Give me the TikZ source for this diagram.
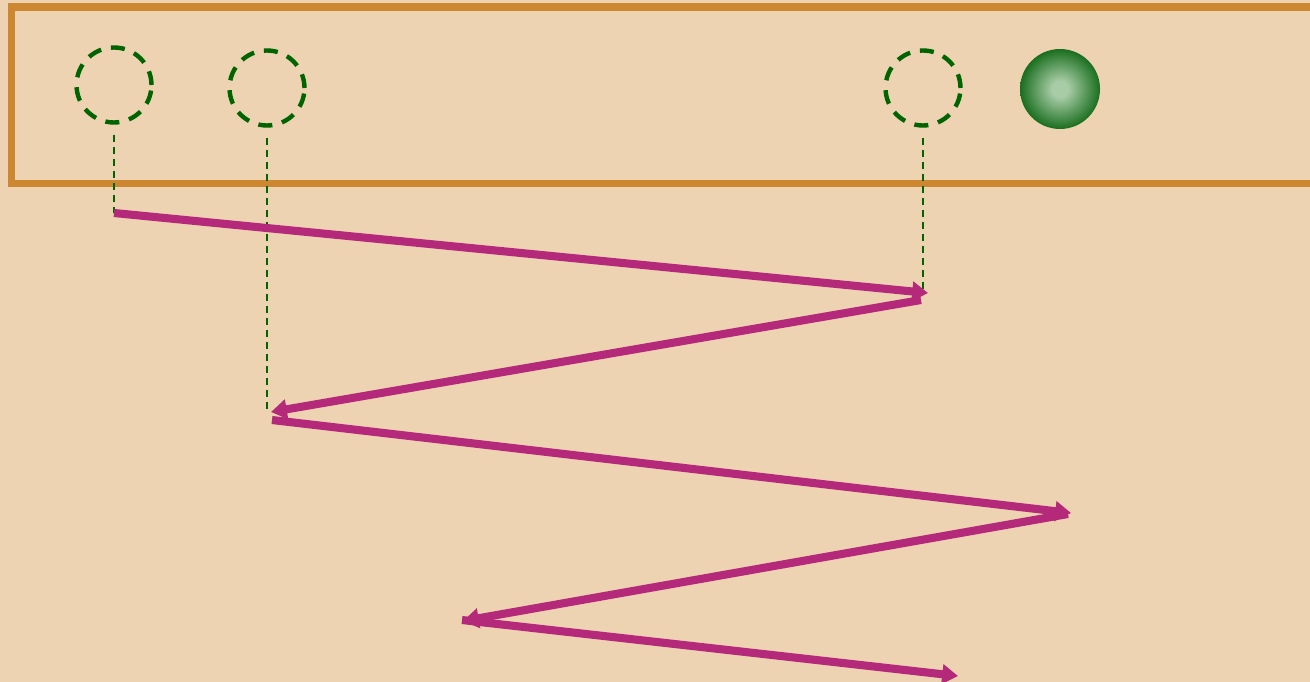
\documentclass[tikz,border=0pt]{standalone}
\usepackage{tikz}
\usetikzlibrary{arrows.meta}
\definecolor{ScanTan}{HTML}{EDD3B1}
\definecolor{ScanOrange}{HTML}{CD8730}
\definecolor{ScanMagenta}{HTML}{B5297A}
\definecolor{ScanGreen}{HTML}{006400}
\definecolor{ScanDark}{HTML}{0C6512}
\definecolor{ScanLight}{HTML}{A8CCA6}
\pgfdeclareradialshading{scanball}{\pgfpoint{0bp}{0bp}}{color(0bp)=(ScanLight); color(5bp)=(ScanLight); color(27bp)=(ScanDark); color(50bp)=(ScanDark)}
\begin{document}
\begin{tikzpicture}[x=0.02cm,y=-0.02cm,
  ring/.style={circle,draw=ScanGreen,line width=2.5pt,dash pattern=on 0.28cm off 0.2cm,minimum size=1.5cm,inner sep=0pt},
  drop/.style={ScanGreen,line width=1pt,dash pattern=on 0.14cm off 0.1cm},
  hop/.style={ScanMagenta,line width=4.6pt,-{Triangle[length=9pt,width=11pt]}}]
\useasboundingbox (0,0) rectangle (1310,682);
\fill[ScanTan] (0,0) rectangle (1310,682);
\draw[ScanOrange,line width=0.15cm] (11.5,7) rectangle (1340,183.5);
\node[ring] (r1) at (114,85){};
\node[ring] (r2) at (267,88){};
\node[ring] (r3) at (923,88){};
\node[circle,minimum size=1.6cm,inner sep=0pt,shading=scanball] (ball) at (1060,89){};
% zigzag end points
\foreach \n/\x/\y in {s1/114/213,e1/928/293,s2/921/300,e2/271/412,s3/272/420,e3/1071/513,s4/1068/514,e4/463/621,s5/462/620,e5/958/676}{\coordinate (\n) at (\x,\y);}
\draw[drop] ([yshift=-0.2cm]r1.south)--(r1.south |- s1);
\draw[drop] ([yshift=-0.2cm]r2.south)--(r2.south |- e2);
\draw[drop] ([yshift=-0.2cm]r3.south)--(r3.south |- e1);
\foreach \i in {1,...,5}{\draw[hop] (s\i)--(e\i);}
\end{tikzpicture}
\end{document}
